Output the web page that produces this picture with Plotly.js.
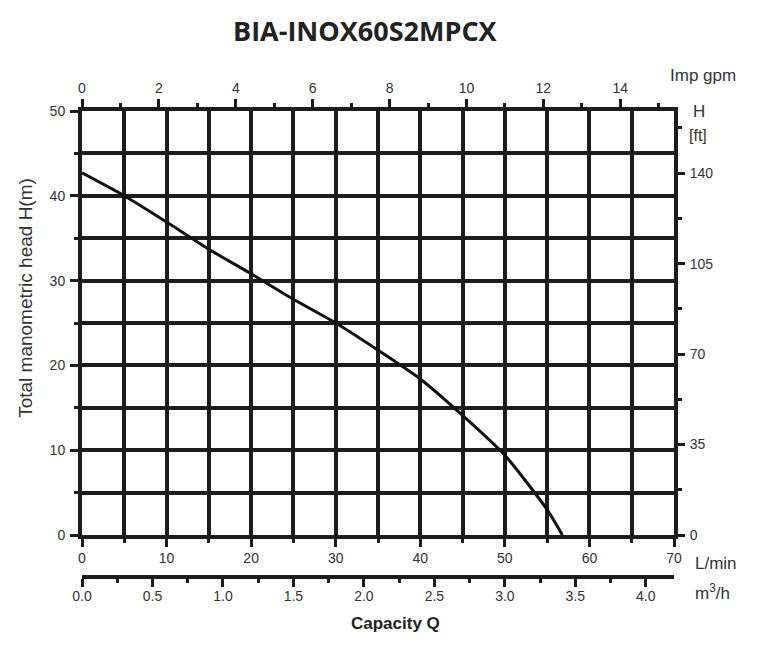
<!DOCTYPE html>
<html>
<head>
<meta charset="utf-8">
<script src="https://cdn.plot.ly/plotly-3.0.1.min.js"></script>
<style>
  html, body { margin: 0; padding: 0; background: #fff; }
  #chart { width: 761px; height: 656px; }
</style>
</head>
<body>
<div id="chart"></div>
<script>
// pump curve (L/min -> head in m)
const flowLpm = [0, 5, 10, 15, 20, 25, 30, 35, 40, 45, 50, 55, 56.8];
const headM = [42.7, 40.0, 36.9, 33.7, 30.8, 27.8, 25.0, 21.8, 18.4, 14.1, 9.4, 3.0, 0];

const titleText = 'BIA-INOX60S2MPCX';
const lpmRange = [0, 70];
const headRange = [0, 50];

// unit conversions for the secondary scales
const LPM_PER_GPM = 4.546;
const FT_PER_M = 3.281;
const LPM_PER_M3H = 16.667;

const W = 761, H = 656;
const L = 81.5, R = 674, T = 110.5, B = 577; // paper box in px
const plotBottom = 535;

// px -> paper coords for labels
const px = x => (x - L) / (R - L);
const py = y => (B - y) / (B - T);

const ink = '#1c1c1c';
const txt = '#333';
const sans = 'Liberation Sans, Arial, sans-serif';
const tickFont = { family: sans, size: 14, color: txt };

const curve = {
    x: flowLpm, y: headM,
    type: 'scatter', mode: 'lines',
    line: { color: '#111', width: 3, shape: 'spline', smoothing: 0.6 },
    hoverinfo: 'skip', showlegend: false
};
// same curve on the gpm / ft scales, invisible, keeps those axes alive
const curveImp = {
    x: flowLpm.map(v => v / LPM_PER_GPM), y: headM.map(v => v * FT_PER_M),
    xaxis: 'x2', yaxis: 'y2',
    type: 'scatter', mode: 'lines', line: { color: 'rgba(0,0,0,0)', width: 0 },
    hoverinfo: 'skip', showlegend: false
};
const curveM3h = {
    x: flowLpm.map(v => v / LPM_PER_M3H), y: headM,
    xaxis: 'x3', yaxis: 'y',
    type: 'scatter', mode: 'lines', line: { color: 'rgba(0,0,0,0)', width: 0 },
    hoverinfo: 'skip', showlegend: false
};

const gridAxis = {
    showline: true, linecolor: ink, linewidth: 4,
    showgrid: true, gridcolor: ink, gridwidth: 4,
    zeroline: false, ticks: 'outside', ticklen: 8, tickwidth: 3, tickcolor: ink,
    tickfont: tickFont, fixedrange: true
};

function label(text, x, y, size, opts) {
    return Object.assign({
        text: text, xref: 'paper', yref: 'paper', x: px(x), y: py(y),
        xanchor: 'center', yanchor: 'middle', showarrow: false,
        font: { family: sans, size: size, color: txt }
    }, opts || {});
}

const layout = {
    width: W, height: H,
    margin: { l: L, r: W - R, t: T, b: H - B, pad: 0 },
    paper_bgcolor: '#fff', plot_bgcolor: '#fff',
    showlegend: false, hovermode: false,
    xaxis: Object.assign({}, gridAxis, {
        range: lpmRange, dtick: 10, tick0: 0,
        minor: { dtick: 5, showgrid: true, gridcolor: ink, gridwidth: 4, ticks: 'outside', ticklen: 4, tickwidth: 3, tickcolor: ink },
        ticklabelstandoff: -1
    }),
    yaxis: Object.assign({}, gridAxis, {
        range: headRange, dtick: 10, tick0: 0,
        domain: [py(plotBottom), 1],
        minor: { dtick: 5, showgrid: true, gridcolor: ink, gridwidth: 4, ticks: 'outside', ticklen: 4, tickwidth: 3, tickcolor: ink },
        ticklabelstandoff: 2
    }),
    xaxis2: {
        overlaying: 'x', side: 'top', anchor: 'y',
        range: [0, lpmRange[1] / LPM_PER_GPM], dtick: 2, tick0: 0,
        showline: true, linecolor: ink, linewidth: 4, showgrid: false, zeroline: false,
        ticks: 'outside', ticklen: 8, tickwidth: 3, tickcolor: ink,
        minor: { dtick: 1, ticks: 'outside', ticklen: 4, tickwidth: 3, tickcolor: ink },
        tickfont: tickFont, ticklabelstandoff: 0, fixedrange: true
    },
    yaxis2: {
        overlaying: 'y', side: 'right', anchor: 'x',
        range: [0, headRange[1] * FT_PER_M], dtick: 35, tick0: 0,
        showline: true, linecolor: ink, linewidth: 4, showgrid: false, zeroline: false,
        ticks: 'outside', ticklen: 7, tickwidth: 3, tickcolor: ink,
        minor: { dtick: 17.5, ticks: 'outside', ticklen: 4, tickwidth: 3, tickcolor: ink },
        tickfont: tickFont, ticklabelstandoff: 2, fixedrange: true
    },
    xaxis3: {
        overlaying: 'x', side: 'bottom', anchor: 'free', position: 0,
        range: [0, lpmRange[1] / LPM_PER_M3H], dtick: 0.5, tick0: 0, tickformat: '.1f',
        showline: true, linecolor: ink, linewidth: 4, showgrid: false, zeroline: false,
        ticks: 'outside', ticklen: 8, tickwidth: 3, tickcolor: ink,
        minor: { dtick: 0.25, ticks: 'outside', ticklen: 4, tickwidth: 3, tickcolor: ink },
        tickfont: tickFont, ticklabelstandoff: -3, fixedrange: true
    },
    annotations: [
        label('<b>' + titleText + '</b>', 365, 30, 27, { font: { family: 'Open Sans, sans-serif', size: 27, color: '#222' } }),
        label('Total manometric head H(m)', 25, 298, 19, { textangle: -90 }),
        label('Imp gpm', 668, 75, 17, { xanchor: 'left' }),
        label('H', 699, 111, 17),
        label('[ft]', 698, 135, 16),
        label('L/min', 693, 563, 17, { xanchor: 'left' }),
        label('m<sup>3</sup>/h', 693, 592, 17, { xanchor: 'left' }),
        label('<b>Capacity Q</b>', 395, 624, 17, { font: { family: sans, size: 17, color: '#222' } })
    ]
};

Plotly.newPlot('chart', [curve, curveImp, curveM3h], layout, { displayModeBar: false, staticPlot: true });
</script>
</body>
</html>
